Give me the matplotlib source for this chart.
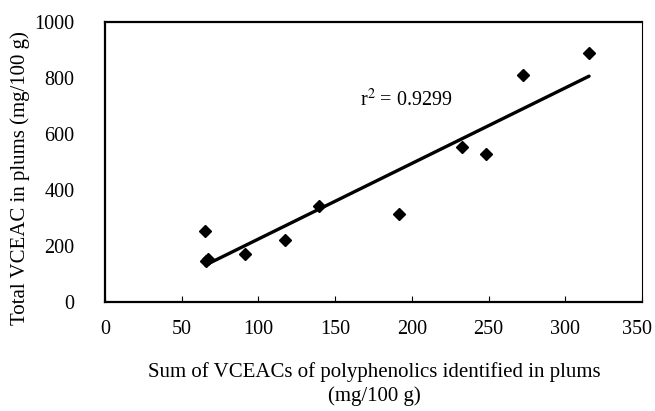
import numpy as np
import matplotlib
matplotlib.use('Agg')
import matplotlib.pyplot as plt
from matplotlib.transforms import ScaledTranslation

plt.rcParams['font.family'] = ['Liberation Serif', 'DejaVu Serif']

# VCEAC values (mg/100 g)
sum_vceac = [65.5, 66.0, 67.0, 91.5, 117.5, 139.5, 191.5, 233.0, 248.0, 272.5, 315.5]
total_vceac = [254, 145, 155, 173, 221, 343, 313, 553, 529, 809, 889]
x_ticks = [0, 50, 100, 150, 200, 250, 300, 350]
y_ticks = [0, 200, 400, 600, 800, 1000]
r2_label = 'r$^2$ = 0.9299'

fig = plt.figure(figsize=(6.55, 4.11), dpi=100)
ax = fig.add_axes([105/655, 1-302/411, 537/655, 280/411])

x = np.array(sum_vceac)
y = np.array(total_vceac)
ax.plot(x, y, 'D', color='black', markersize=6, zorder=3)

# linear trend line
k, b = np.polyfit(x, y, 1)
xl = np.array([x.min(), x.max()])
ax.plot(xl, k*xl + b, '-', color='black', linewidth=2.4, solid_capstyle='round')

ax.set_xlim(0, 350)
ax.set_ylim(0, 1000)
ax.set_xticks(x_ticks)
ax.set_yticks(y_ticks)
ax.tick_params(axis='x', direction='in', length=4, width=0.8, pad=13, labelsize=14.5)
ax.tick_params(axis='y', length=0, pad=22, labelsize=14.5)

# last x label sits right at the figure edge, nudge it in a bit
lab = ax.get_xticklabels()[-1]
lab.set_transform(lab.get_transform() + ScaledTranslation(-5/100, 0, fig.dpi_scale_trans))

for s in ['left', 'top', 'bottom']:
    ax.spines[s].set_linewidth(1.6)
ax.spines['right'].set_linewidth(0.8)

ax.text(166, 721, r2_label, fontsize=14.5, va='center', ha='left',
        math_fontfamily='stix')

fig.text(374/655, 1-372/411, 'Sum of VCEACs of polyphenolics identified in plums',
         ha='center', va='center', fontsize=15)
fig.text(374/655, 1-396/411, '(mg/100 g)', ha='center', va='center', fontsize=15)
fig.text(20/655, 1-178/411, 'Total VCEAC in plums (mg/100 g)', rotation=90,
         ha='center', va='center', fontsize=15)

fig.savefig('out.png', dpi=100)
